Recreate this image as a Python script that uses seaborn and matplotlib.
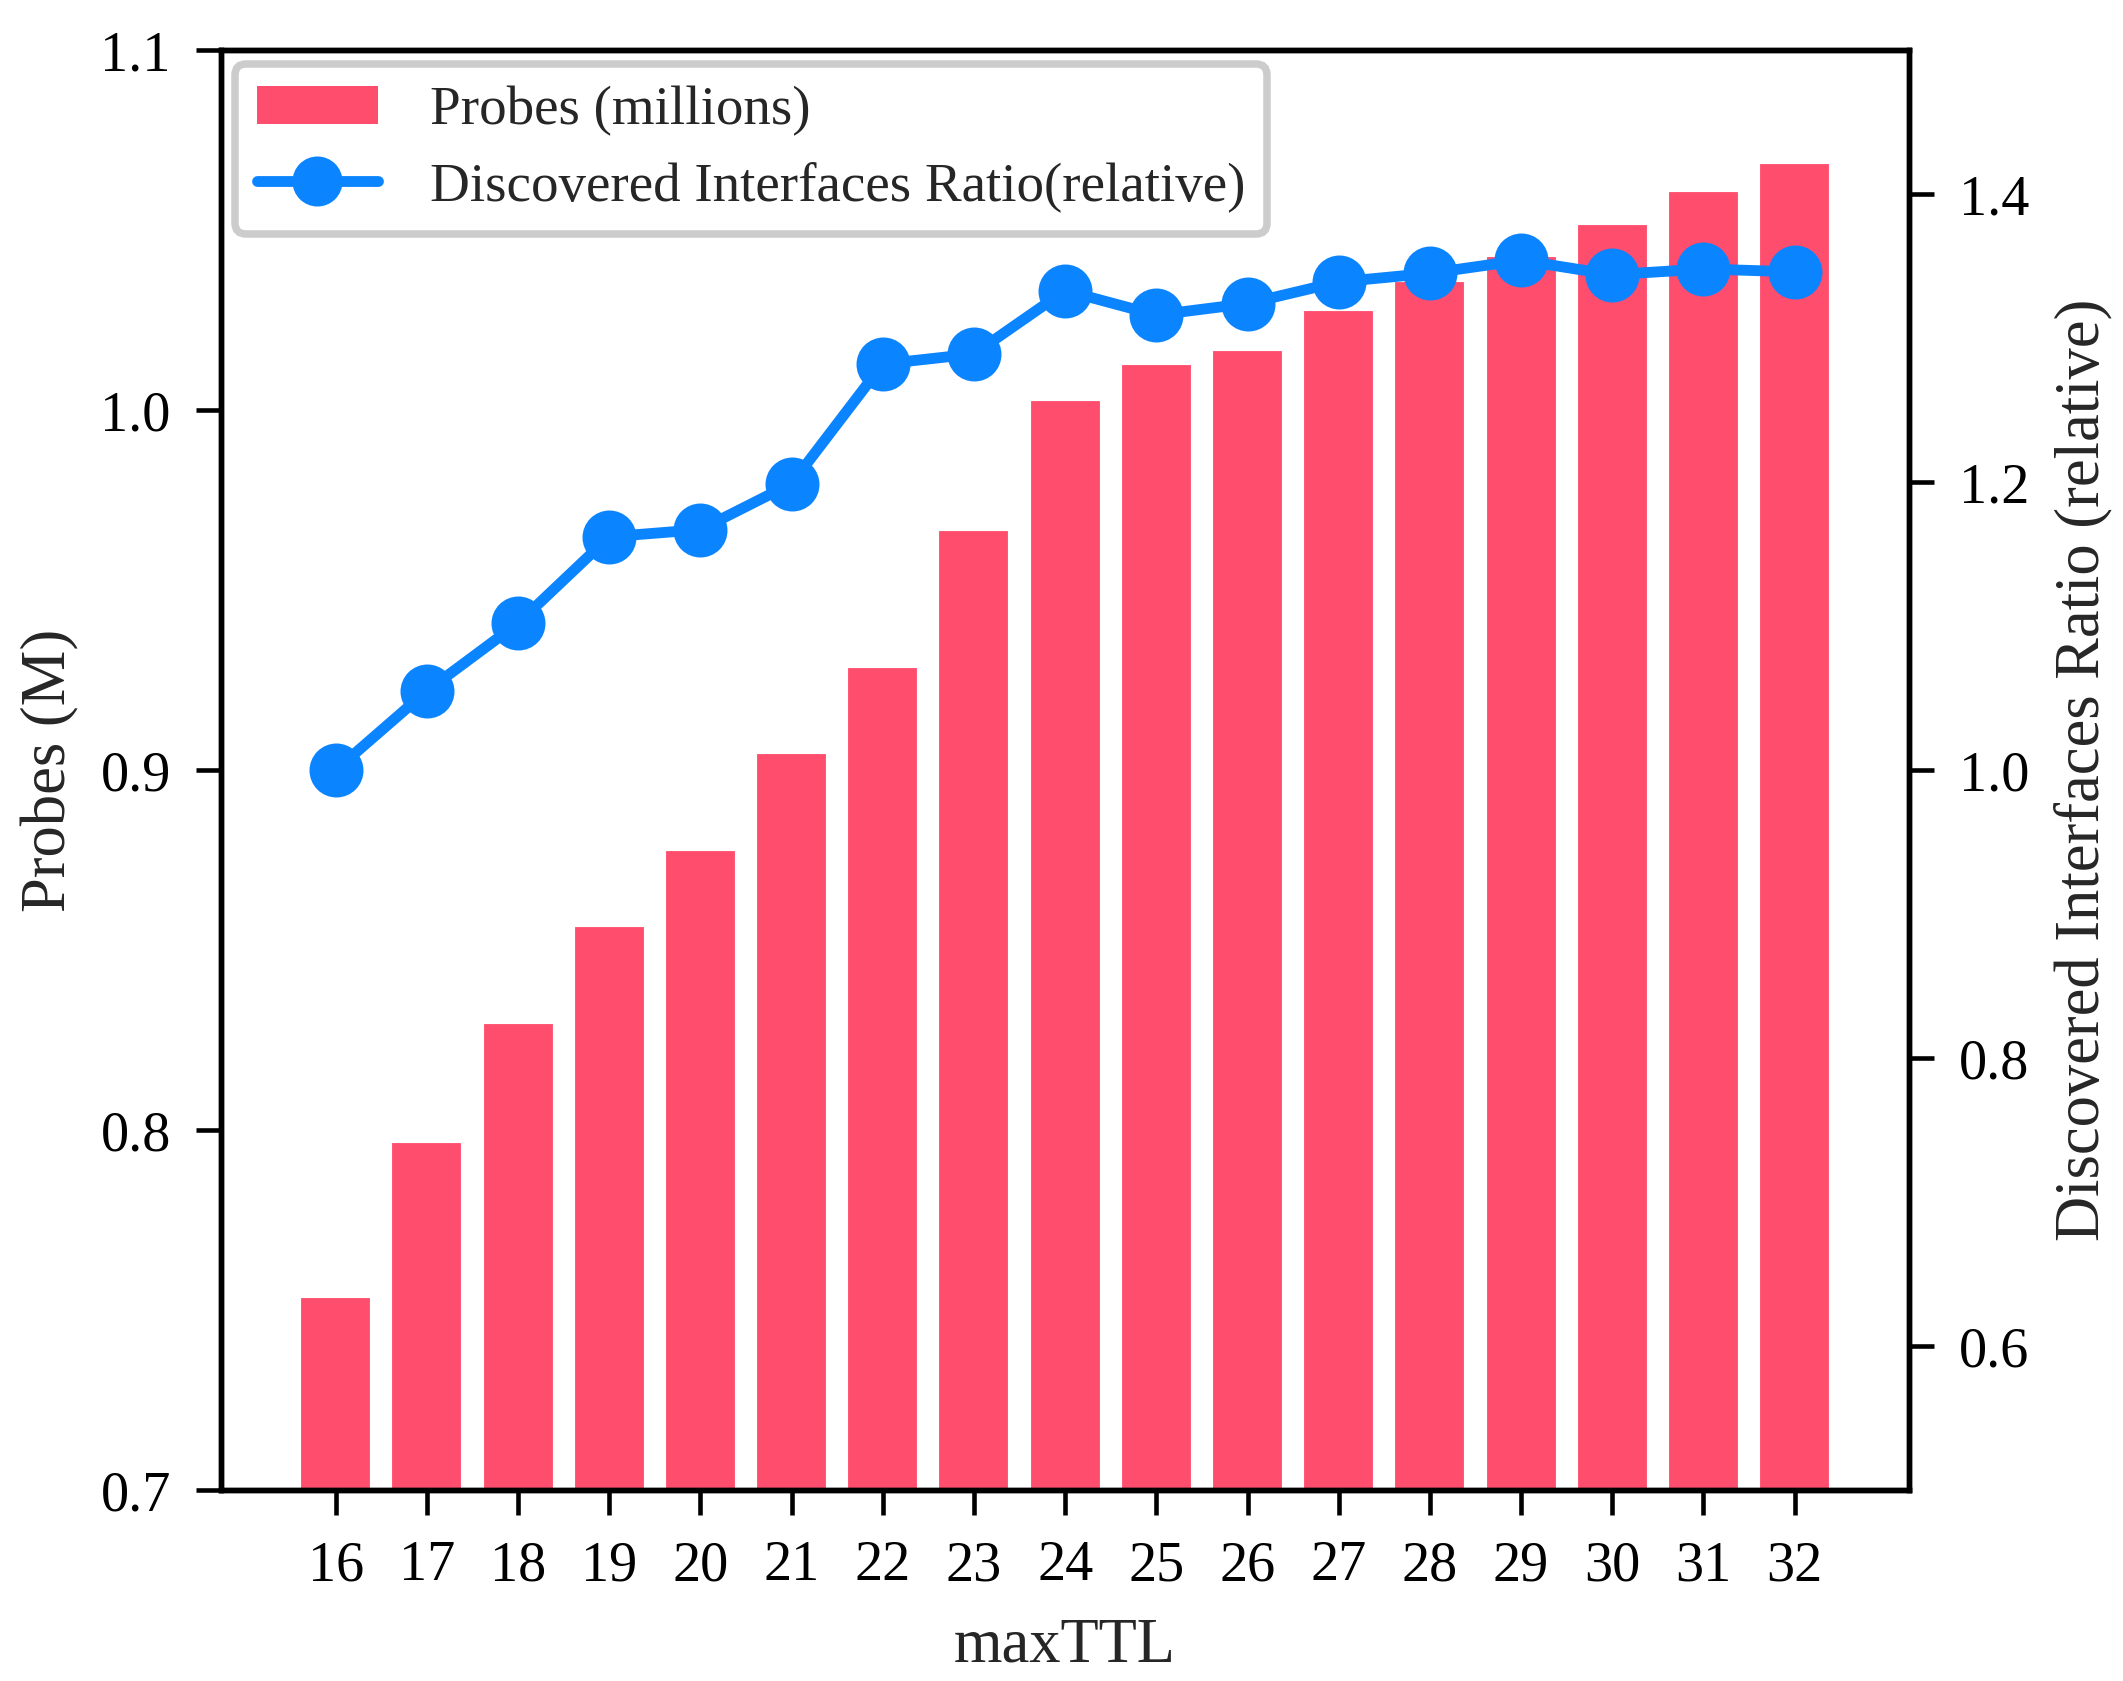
import matplotlib
matplotlib.use("Agg")
import matplotlib.pyplot as plt
import seaborn as sns
import pandas as pd
from matplotlib.patches import Patch
from matplotlib.lines import Line2D

max_ttl = [16, 17, 18, 19, 20, 21, 22, 23, 24, 25, 26, 27, 28, 29, 30, 31, 32]
probes_m = [0.754, 0.797, 0.830, 0.857, 0.878, 0.905, 0.929, 0.967, 1.003,
            1.013, 1.017, 1.028, 1.036, 1.043, 1.052, 1.061, 1.069]
ratio_rel = [1.000, 1.055, 1.102, 1.162, 1.167, 1.199, 1.282, 1.289, 1.333,
             1.316, 1.324, 1.339, 1.345, 1.354, 1.344, 1.348, 1.346]
left_ticks = [0.7, 0.8, 0.9, 1.0, 1.1]
right_ticks = [0.6, 0.8, 1.0, 1.2, 1.4]

bar_color = "#FF4D6D"
line_color = "#0A84FF"

sns.set_theme(style="ticks")
plt.rcParams["font.family"] = ["Liberation Serif", "DejaVu Serif"]
plt.rcParams["axes.linewidth"] = 1.3
tick_fs = 13.5
label_fs = 15
legend_fs = 13.2

df = pd.DataFrame({"maxTTL": [str(v) for v in max_ttl],
                   "probes": probes_m, "ratio": ratio_rel})

fig = plt.figure(figsize=(2123 / 300, 1681 / 300), dpi=300)
ax = fig.add_axes([0.104, 0.1136, 0.795, 0.8566])

sns.barplot(data=df, x="maxTTL", y="probes", color=bar_color, saturation=1,
            width=0.8, ax=ax)
ax.set_ylim(0.7, 1.1)
ax.set_yticks(left_ticks)
ax.set_yticklabels([f"{v:.1f}" for v in left_ticks])

ax2 = ax.twinx()
sns.pointplot(data=df, x="maxTTL", y="ratio", color=line_color, markers="o",
              linestyles="-", markersize=11, linewidth=2.6, ax=ax2, errorbar=None)
ax2.set_ylim(0.5, 1.5)
ax2.set_yticks(right_ticks)
ax2.set_yticklabels([f"{v:.1f}" for v in right_ticks])
ax.set_xlim(-1.26, 16 + 1.25)

for a in (ax, ax2):
    for s in a.spines.values():
        s.set_visible(True)
        s.set_linewidth(1.3)
        s.set_color("black")
    a.tick_params(axis="both", labelsize=tick_fs, length=6, width=1.1, pad=6,
                  direction="out", colors="black")

ax.set_xlabel("maxTTL", fontsize=label_fs, labelpad=6)
ax.set_ylabel("Probes (M)", fontsize=label_fs, labelpad=5)
ax2.set_ylabel("Discovered Interfaces Ratio (relative)", fontsize=label_fs, labelpad=6)

handles = [Patch(facecolor=bar_color, edgecolor="none"),
           Line2D([0], [0], color=line_color, lw=2.6, marker="o", markersize=11)]
labels = ["Probes (millions)", "Discovered Interfaces Ratio(relative)"]
leg = ax2.legend(handles, labels, loc="upper left", fontsize=legend_fs, frameon=True,
                 fancybox=True, framealpha=1, edgecolor="#cccccc",
                 borderaxespad=0.25, handlelength=2.2, handletextpad=0.95,
                 labelspacing=0.45, borderpad=0.4)
leg.get_frame().set_linewidth(1.8)

fig.savefig("out.png", dpi=300)
